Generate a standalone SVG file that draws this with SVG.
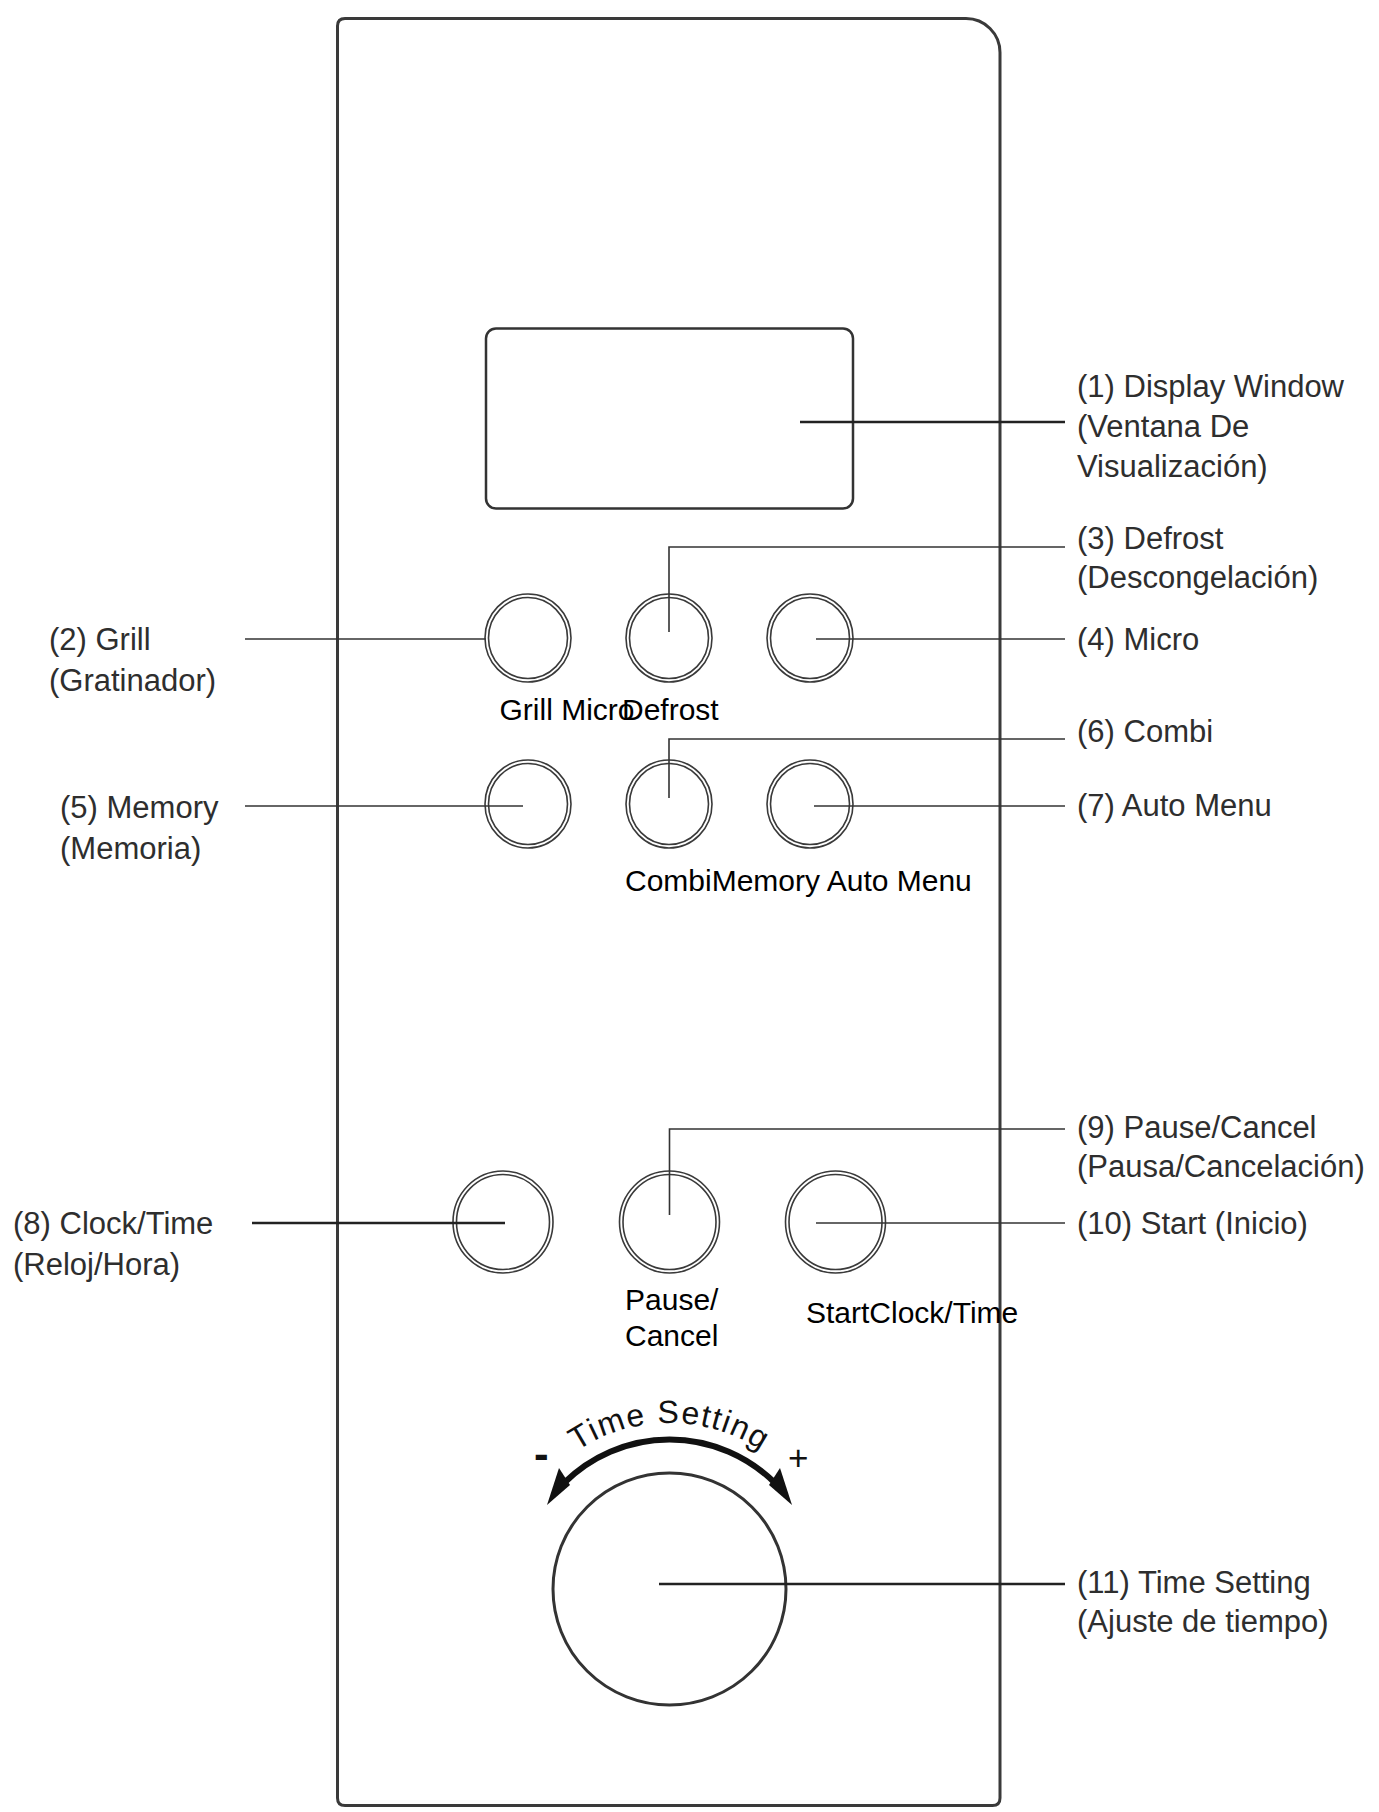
<svg xmlns="http://www.w3.org/2000/svg" width="1379" height="1812" viewBox="0 0 1379 1812">
<style>
.lbl{font-family:"Liberation Sans",Arial,sans-serif;font-size:31px;fill:#2e2e2e}
.btxt{font-family:"Liberation Sans",Arial,sans-serif;font-size:30px;fill:#000}
.ring{fill:none;stroke:#3a3a3a;stroke-width:1.6}
.ld{fill:none;stroke:#333;stroke-width:1.6}
.ldt{fill:none;stroke:#222;stroke-width:2.6}
.edge{fill:none;stroke:#3a3a3a;stroke-width:3}
</style>
<rect width="1379" height="1812" fill="#fff"/>
<g id="panel">
<path class="edge" d="M337.5 26 Q337.5 18.5 345 18.5 L966 18.5 A34 34 0 0 1 1000 52.5 L1000 1798 Q1000 1805.5 992.5 1805.5 L345 1805.5 Q337.5 1805.5 337.5 1798 Z"/>
</g>
<g id="display">
<rect x="486" y="328.5" width="367" height="180" rx="10" fill="none" stroke="#333" stroke-width="2.5"/>
</g>
<g id="btn-grill"><ellipse class="ring" cx="528" cy="638" rx="43" ry="44"/><ellipse class="ring" cx="528" cy="638" rx="39.5" ry="40.5"/></g>
<g id="btn-defrost"><ellipse class="ring" cx="669" cy="638" rx="43" ry="44"/><ellipse class="ring" cx="669" cy="638" rx="39.5" ry="40.5"/></g>
<g id="btn-micro"><ellipse class="ring" cx="810" cy="638" rx="43" ry="44"/><ellipse class="ring" cx="810" cy="638" rx="39.5" ry="40.5"/></g>
<g id="row1-text"><text class="btxt" x="499.5" y="720">Grill Micro</text><text class="btxt" x="622" y="720">Defrost</text></g>
<g id="btn-memory"><ellipse class="ring" cx="528" cy="804" rx="43" ry="44"/><ellipse class="ring" cx="528" cy="804" rx="39.5" ry="40.5"/></g>
<g id="btn-combi"><ellipse class="ring" cx="669" cy="804" rx="43" ry="44"/><ellipse class="ring" cx="669" cy="804" rx="39.5" ry="40.5"/></g>
<g id="btn-automenu"><ellipse class="ring" cx="810" cy="804" rx="43" ry="44"/><ellipse class="ring" cx="810" cy="804" rx="39.5" ry="40.5"/></g>
<g id="row2-text"><text class="btxt" x="625" y="891">CombiMemory Auto Menu</text></g>
<g id="btn-clock"><ellipse class="ring" cx="503" cy="1222" rx="50" ry="51"/><ellipse class="ring" cx="503" cy="1222" rx="46.5" ry="47.5"/></g>
<g id="btn-pause"><ellipse class="ring" cx="669.5" cy="1222" rx="50" ry="51"/><ellipse class="ring" cx="669.5" cy="1222" rx="46.5" ry="47.5"/></g>
<g id="btn-start"><ellipse class="ring" cx="835.5" cy="1222" rx="50" ry="51"/><ellipse class="ring" cx="835.5" cy="1222" rx="46.5" ry="47.5"/></g>
<g id="row3-text"><text class="btxt" x="625" y="1310">Pause/</text><text class="btxt" x="625" y="1346">Cancel</text><text class="btxt" x="806" y="1323">StartClock/Time</text></g>
<g id="knob">
<ellipse cx="669.5" cy="1589" rx="116.5" ry="116" fill="none" stroke="#333" stroke-width="3"/>
<path d="M564 1483 A149.5 149.5 0 0 1 775 1483" fill="none" stroke="#111" stroke-width="6"/>
<polygon points="559,1468 570,1485 547,1505" fill="#111"/>
<polygon points="780,1468 769,1485 792,1505" fill="#111"/>
<path id="tsArc" d="M503.5 1589 A166 166 0 0 1 835.5 1589" fill="none"/>
<text font-family="'Liberation Sans',Arial,sans-serif" font-size="32" letter-spacing="1.5" fill="#111"><textPath href="#tsArc" startOffset="50%" text-anchor="middle">Time Setting</textPath></text>
<text font-family="'Liberation Sans',Arial,sans-serif" font-size="44" font-weight="bold" fill="#111" x="534" y="1469">-</text>
<text font-family="'Liberation Sans',Arial,sans-serif" font-size="35" fill="#111" x="788" y="1470">+</text>
</g>
<g id="connectors">
<line class="ldt" x1="800" y1="422" x2="1065" y2="422"/>
<polyline class="ld" points="669,632 669,547 1065,547"/>
<line class="ld" x1="245" y1="639" x2="486" y2="639"/>
<line class="ld" x1="816" y1="639" x2="1065" y2="639"/>
<polyline class="ld" points="669,798 669,739 1065,739"/>
<line class="ld" x1="245" y1="806" x2="523" y2="806"/>
<line class="ld" x1="814" y1="806" x2="1065" y2="806"/>
<polyline class="ld" points="669.5,1215 669.5,1129 1065,1129"/>
<line class="ldt" x1="252" y1="1223" x2="505" y2="1223"/>
<line class="ld" x1="816" y1="1223" x2="1065" y2="1223"/>
<line class="ldt" x1="659" y1="1584" x2="1065" y2="1584"/>
</g>
<g id="label-1"><text class="lbl" x="1077" y="397">(1) Display Window</text><text class="lbl" x="1077" y="437">(Ventana De</text><text class="lbl" x="1077" y="477">Visualización)</text></g>
<g id="label-2"><text class="lbl" x="49" y="650">(2) Grill</text><text class="lbl" x="49" y="691">(Gratinador)</text></g>
<g id="label-3"><text class="lbl" x="1077" y="549">(3) Defrost</text><text class="lbl" x="1077" y="588">(Descongelación)</text></g>
<g id="label-4"><text class="lbl" x="1077" y="650">(4) Micro</text></g>
<g id="label-5"><text class="lbl" x="60" y="818">(5) Memory</text><text class="lbl" x="60" y="859">(Memoria)</text></g>
<g id="label-6"><text class="lbl" x="1077" y="742">(6) Combi</text></g>
<g id="label-7"><text class="lbl" x="1077" y="816">(7) Auto Menu</text></g>
<g id="label-8"><text class="lbl" x="13" y="1234">(8) Clock/Time</text><text class="lbl" x="13" y="1275">(Reloj/Hora)</text></g>
<g id="label-9"><text class="lbl" x="1077" y="1138">(9) Pause/Cancel</text><text class="lbl" x="1077" y="1177">(Pausa/Cancelación)</text></g>
<g id="label-10"><text class="lbl" x="1077" y="1234">(10) Start (Inicio)</text></g>
<g id="label-11"><text class="lbl" x="1077" y="1593">(11) Time Setting</text><text class="lbl" x="1077" y="1632">(Ajuste de tiempo)</text></g>
</svg>
